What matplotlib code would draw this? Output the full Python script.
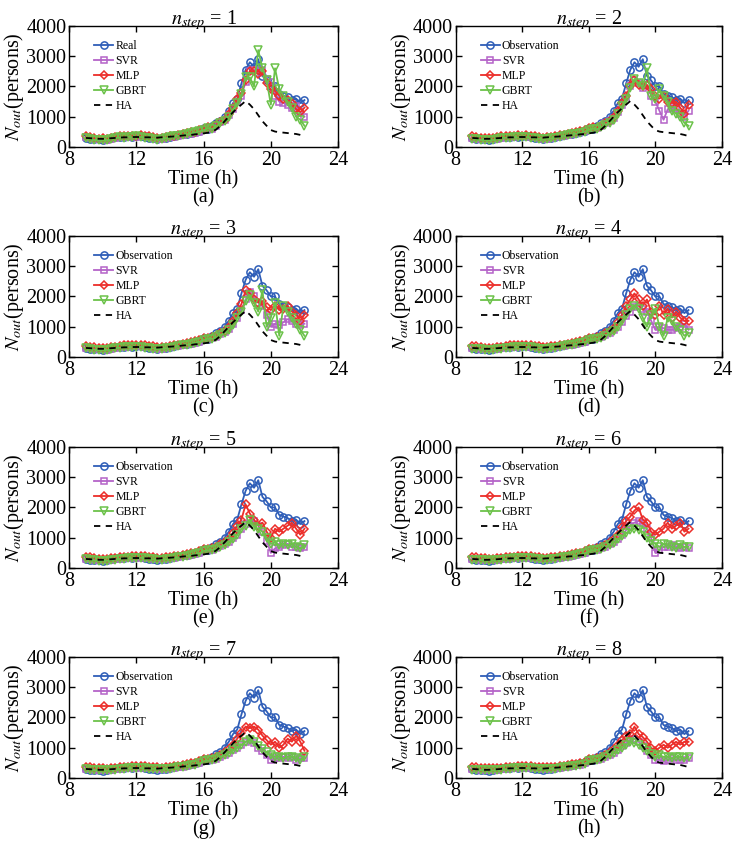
import matplotlib.pyplot as plt
import numpy as np

plt.rcParams['font.family'] = 'Liberation Serif'
plt.rcParams['mathtext.fontset'] = 'stix'

""" ****** data read off the figure (15 min steps, 9:00 - 22:00) ****** """

time_h = np.arange(9.0, 22.01, 0.25)

obs = [300, 270, 250, 260, 240, 250, 290, 320, 340, 330, 360, 340, 370, 350, 330, 310, 290, 260, 300, 310, 340, 370, 390, 420, 440, 470, 500, 540,
       640, 600, 680, 800, 850, 1000, 1200, 1450, 1600, 2100, 2550, 2800, 2650, 2900, 2350, 2200, 2000, 2000, 1750, 1700, 1650, 1550, 1600, 1450, 1550]

ha = [300, 290, 280, 270, 270, 280, 290, 300, 310, 320, 320, 330, 330, 330, 320, 320, 310, 310, 320, 330, 340, 350, 360, 380, 390, 400, 420, 430,
      450, 470, 500, 580, 700, 850, 1000, 1150, 1280, 1400, 1520, 1400, 1250, 1050, 850, 700, 560, 510, 490, 475, 460, 445, 430, 400, 360]

n_steps = [1, 2, 3, 4, 5, 6, 7, 8]
panel_tags = ['(a)', '(b)', '(c)', '(d)', '(e)', '(f)', '(g)', '(h)']

svr_pred = [
    [320, 290, 270, 250, 260, 240, 260, 290, 330, 340, 330, 350, 340, 370, 350, 330, 300, 280, 270, 300, 320, 340, 370, 390, 420, 440, 470, 510,
     580, 640, 610, 700, 820, 880, 1050, 1250, 1500, 1700, 2150, 2500, 2550, 2450, 2550, 2250, 2150, 1700, 1500, 1450, 1400, 1300, 1350, 1150, 1000],
    [310, 280, 260, 250, 250, 250, 270, 300, 320, 330, 340, 350, 350, 360, 340, 320, 300, 270, 280, 300, 330, 350, 380, 400, 420, 450, 480, 520,
     600, 620, 630, 680, 780, 850, 950, 1150, 1400, 1650, 2000, 2200, 2100, 1950, 2050, 1700, 1500, 1200, 900, 1250, 1300, 1250, 1100, 1000, 1200],
    [300, 290, 270, 260, 250, 240, 270, 300, 320, 340, 330, 350, 350, 360, 340, 330, 310, 280, 280, 300, 320, 350, 370, 390, 420, 440, 470, 510,
     600, 610, 630, 670, 750, 820, 920, 1100, 1300, 1550, 1900, 2150, 2000, 1800, 1700, 1400, 1000, 1100, 1050, 1150, 1250, 1200, 1100, 1050, 1100],
    [310, 290, 270, 260, 260, 250, 270, 290, 320, 330, 340, 340, 350, 350, 340, 320, 300, 280, 290, 300, 330, 350, 370, 390, 410, 440, 460, 500,
     590, 610, 620, 660, 730, 800, 880, 1000, 1150, 1350, 1500, 1650, 1700, 1600, 1500, 1200, 900, 1000, 950, 900, 900, 950, 1000, 1100, 900],
    [300, 290, 280, 270, 260, 260, 270, 290, 310, 320, 330, 340, 340, 350, 340, 320, 310, 290, 290, 300, 320, 340, 360, 390, 410, 430, 460, 490,
     580, 600, 610, 650, 720, 790, 860, 980, 1100, 1300, 1450, 1600, 1550, 1400, 1200, 900, 500, 650, 700, 750, 800, 700, 700, 650, 700],
    [300, 290, 280, 270, 270, 260, 270, 290, 310, 320, 330, 340, 340, 350, 340, 330, 310, 300, 290, 300, 320, 340, 360, 380, 400, 430, 450, 490,
     570, 600, 610, 650, 710, 780, 850, 950, 1100, 1250, 1400, 1500, 1550, 1500, 1300, 1000, 500, 600, 700, 700, 750, 700, 650, 700, 650],
    [300, 290, 280, 270, 270, 270, 280, 290, 300, 320, 330, 340, 340, 350, 340, 330, 320, 300, 300, 310, 320, 340, 360, 380, 400, 420, 450, 480,
     560, 590, 600, 640, 700, 760, 830, 920, 1000, 1100, 1200, 1250, 1150, 1000, 900, 750, 600, 650, 650, 700, 650, 700, 600, 650, 650],
    [300, 290, 280, 280, 270, 270, 280, 290, 300, 320, 330, 340, 340, 350, 340, 330, 320, 310, 300, 310, 320, 340, 360, 380, 400, 420, 440, 480,
     560, 590, 600, 640, 700, 760, 830, 920, 1050, 1150, 1250, 1300, 1200, 1050, 900, 750, 600, 600, 550, 600, 650, 600, 600, 600, 650],
]

mlp_pred = [
    [360, 330, 300, 280, 290, 270, 300, 330, 350, 370, 350, 380, 360, 390, 370, 350, 330, 300, 310, 330, 350, 380, 400, 430, 450, 480, 510, 550,
     600, 650, 620, 720, 830, 900, 1100, 1300, 1600, 1800, 2200, 2500, 2500, 2400, 2500, 2100, 1900, 1850, 1700, 1600, 1550, 1450, 1250, 1150, 1300],
    [370, 340, 310, 300, 290, 300, 320, 350, 370, 380, 370, 390, 380, 400, 380, 360, 340, 310, 320, 340, 360, 390, 410, 440, 460, 490, 520, 560,
     620, 650, 640, 700, 800, 870, 1000, 1200, 1450, 1700, 2000, 2200, 2050, 2000, 2050, 1900, 1700, 1600, 1700, 1500, 1450, 1500, 1300, 1100, 1400],
    [360, 340, 320, 300, 300, 300, 320, 340, 360, 380, 380, 390, 390, 400, 380, 370, 350, 320, 330, 340, 370, 390, 410, 430, 460, 490, 520, 560,
     620, 640, 660, 700, 780, 860, 980, 1200, 1450, 1750, 2200, 2100, 1900, 1800, 1850, 1650, 1550, 1700, 1550, 1600, 1700, 1500, 1400, 1200, 1400],
    [370, 350, 320, 310, 300, 300, 320, 340, 370, 380, 380, 390, 390, 400, 390, 370, 350, 330, 330, 350, 370, 390, 410, 440, 460, 490, 520, 560,
     620, 640, 650, 700, 780, 850, 950, 1150, 1400, 1700, 1900, 2100, 1900, 1700, 1900, 1500, 1400, 1700, 1400, 1600, 1300, 1500, 1300, 1200, 1200],
    [360, 350, 330, 310, 310, 300, 320, 340, 360, 380, 380, 390, 390, 400, 390, 370, 350, 340, 340, 350, 370, 390, 410, 430, 460, 480, 510, 550,
     620, 640, 650, 700, 780, 860, 960, 1150, 1400, 1600, 2100, 1800, 1600, 1400, 1500, 1200, 1000, 1300, 1200, 1300, 1400, 1500, 1300, 1100, 1300],
    [360, 350, 340, 320, 310, 310, 320, 340, 360, 370, 380, 390, 390, 400, 390, 380, 360, 340, 340, 350, 370, 390, 410, 430, 450, 480, 510, 550,
     620, 640, 650, 690, 770, 850, 950, 1100, 1350, 1550, 1700, 1900, 2000, 1600, 1500, 1200, 1100, 1200, 1300, 1500, 1300, 1400, 1500, 1200, 1300],
    [370, 350, 340, 330, 320, 310, 320, 340, 360, 370, 380, 390, 390, 400, 390, 380, 360, 350, 340, 350, 370, 390, 410, 430, 450, 480, 510, 550,
     620, 640, 660, 700, 770, 850, 950, 1100, 1300, 1500, 1700, 1650, 1700, 1600, 1400, 1250, 1100, 1200, 1000, 1100, 1300, 1200, 1400, 1200, 900],
    [370, 360, 340, 330, 320, 320, 330, 340, 360, 370, 380, 390, 390, 400, 390, 380, 370, 350, 350, 360, 370, 390, 410, 430, 450, 470, 500, 540,
     620, 640, 660, 700, 770, 850, 950, 1100, 1250, 1400, 1450, 1700, 1450, 1350, 1200, 1000, 900, 1000, 1100, 1000, 1100, 1200, 1100, 1200, 1200],
]

gbrt_pred = [
    [290, 260, 230, 240, 220, 230, 270, 300, 320, 310, 340, 320, 350, 330, 310, 290, 270, 240, 280, 290, 320, 350, 370, 400, 420, 450, 480, 520,
     560, 620, 600, 680, 780, 850, 1000, 1250, 1450, 1750, 2300, 2300, 2000, 3200, 2600, 2200, 1400, 2600, 1900, 1700, 1500, 1300, 1000, 900, 700],
    [280, 250, 230, 230, 220, 230, 260, 290, 310, 310, 330, 320, 340, 330, 310, 290, 270, 250, 270, 290, 310, 340, 370, 390, 420, 440, 470, 510,
     560, 600, 590, 650, 720, 800, 900, 1100, 1350, 1600, 1950, 2250, 2100, 2000, 2600, 1700, 1600, 1900, 1700, 1500, 1200, 1100, 1000, 800, 700],
    [290, 260, 240, 230, 230, 230, 260, 290, 310, 320, 330, 330, 340, 330, 310, 290, 280, 260, 270, 290, 310, 340, 360, 390, 410, 440, 470, 500,
     560, 600, 600, 650, 720, 800, 900, 1050, 1300, 1500, 1850, 2050, 1800, 1500, 2200, 1000, 1300, 1800, 700, 1700, 1500, 1300, 1100, 900, 700],
    [280, 260, 250, 240, 230, 240, 260, 280, 300, 310, 320, 330, 340, 330, 320, 300, 280, 270, 280, 290, 310, 330, 360, 380, 410, 430, 460, 490,
     560, 590, 600, 640, 710, 780, 860, 1000, 1200, 1400, 1600, 1700, 1600, 1300, 1000, 1400, 1600, 1000, 700, 1300, 1200, 1000, 900, 700, 800],
    [290, 270, 250, 240, 240, 240, 260, 280, 300, 310, 320, 330, 330, 340, 320, 300, 290, 270, 280, 290, 310, 330, 350, 380, 400, 430, 450, 490,
     560, 590, 600, 640, 700, 770, 850, 950, 1100, 1300, 1400, 1600, 1350, 1300, 1200, 1000, 800, 850, 750, 800, 750, 800, 700, 650, 750],
    [280, 270, 260, 250, 240, 250, 260, 280, 300, 310, 320, 330, 330, 330, 320, 310, 290, 280, 280, 290, 310, 330, 350, 370, 400, 420, 450, 480,
     550, 590, 600, 640, 700, 760, 830, 950, 1050, 1150, 1250, 1300, 1250, 1200, 1000, 900, 800, 700, 800, 750, 700, 650, 750, 700, 700],
    [290, 270, 260, 250, 250, 250, 260, 280, 300, 310, 320, 330, 330, 330, 320, 310, 300, 290, 290, 300, 310, 330, 350, 370, 390, 420, 440, 480,
     550, 580, 600, 640, 700, 760, 830, 920, 1000, 1100, 1200, 1250, 1200, 1050, 950, 850, 750, 700, 700, 650, 700, 700, 650, 600, 700],
    [280, 270, 260, 260, 250, 250, 260, 280, 290, 310, 320, 320, 330, 330, 320, 310, 300, 290, 290, 300, 310, 330, 350, 370, 390, 410, 440, 470,
     550, 580, 600, 640, 700, 760, 830, 920, 1000, 1100, 1200, 1150, 1100, 1000, 900, 800, 700, 750, 700, 700, 650, 700, 700, 650, 700],
]

""" ****** styles ****** """
c_obs = '#2F5EB8'
c_svr = '#B463C8'
c_mlp = '#EC2E2A'
c_gbrt = '#6CC24A'

fs = 14.5

fig = plt.figure(figsize=(7.35, 8.41), dpi=100)

col_x = [0.094, 0.620]
col_w = [0.366, 0.362]
row_y = [0.8252, 0.5755, 0.3246, 0.0749]
row_h = 0.144

for k in range(8):
    r = k // 2
    c = k % 2
    ax = fig.add_axes([col_x[c], row_y[r], col_w[c], row_h])

    obs_label = 'Real' if k == 0 else 'Observation'
    ax.plot(time_h, obs, color=c_obs, lw=1.3, marker='o', ms=5.2, mfc='none', mew=1.1, label=obs_label)
    ax.plot(time_h, svr_pred[k], color=c_svr, lw=1.3, marker='s', ms=4.5, mfc='none', mew=1.1, label='SVR')
    ax.plot(time_h, mlp_pred[k], color=c_mlp, lw=1.3, marker='D', ms=4.2, mfc='none', mew=1.1, label='MLP')
    ax.plot(time_h, gbrt_pred[k], color=c_gbrt, lw=1.3, marker='v', ms=6.2, mfc='none', mew=1.1, label='GBRT')
    ax.plot(time_h, ha, color='black', lw=1.3, ls='--', dashes=(3.5, 3), label='HA')

    ax.set_xlim(8, 24)
    ax.set_ylim(0, 4000)
    ax.set_xticks([8, 12, 16, 20, 24])
    ax.set_yticks([0, 1000, 2000, 3000, 4000])
    ax.tick_params(direction='in', top=True, right=True, length=4, width=1,
                   labelsize=fs, pad=2)
    ax.tick_params(axis='x', pad=3)
    for sp in ax.spines.values():
        sp.set_linewidth(1.0)

    ax.set_xlabel('Time (h)', fontsize=fs, labelpad=0)
    ax.set_ylabel(r'$N_{out}$(persons)', fontsize=fs, labelpad=0)
    ax.set_title(r'$n_{step}$ = %d' % n_steps[k], fontsize=fs, pad=1)
    ax.text(0.5, -0.42, panel_tags[k], transform=ax.transAxes, ha='center', va='center', fontsize=fs)

    ax.legend(loc='upper left', bbox_to_anchor=(0.085, 0.9), frameon=False, fontsize=8.5,
              handlelength=1.6, handletextpad=0.2, labelspacing=0.25, borderaxespad=0, borderpad=0.2)

plt.savefig('out.png', dpi=100)
